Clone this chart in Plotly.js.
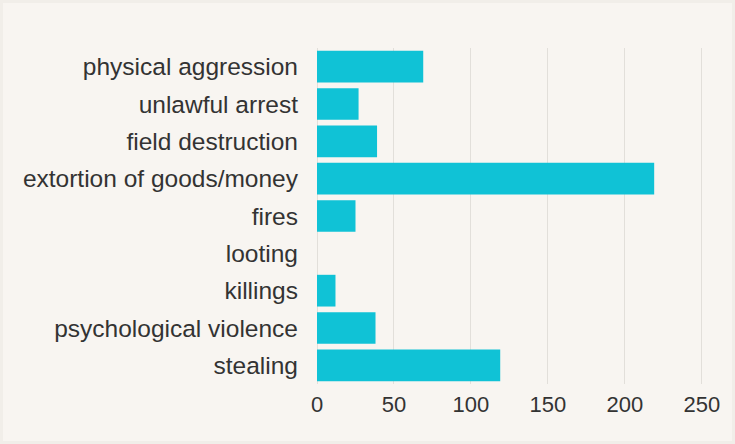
<!DOCTYPE html>
<html>
<head>
<meta charset="utf-8">
<script src="https://cdn.plot.ly/plotly-3.0.1.min.js"></script>
<style>html,body{margin:0;padding:0;background:#f8f5f1;}#chart{width:735px;height:444px;}</style>
</head>
<body>
<div id="chart"></div>
<script>
const categories = ["physical aggression","unlawful arrest","field destruction","extortion of goods/money","fires","looting","killings","psychological violence","stealing"];
const counts = [69, 27, 39, 219, 25, 0, 12, 38, 119];
const xTicks = [0, 50, 100, 150, 200, 250];

const trace = {
  type: 'bar',
  orientation: 'h',
  y: categories,
  x: counts,
  marker: {color: '#10c2d6'},
  hoverinfo: 'x+y'
};

const layout = {
  width: 735, height: 444,
  paper_bgcolor: '#f8f5f1',
  plot_bgcolor: '#f8f5f1',
  margin: {l: 317, r: 10, t: 48, b: 60},
  bargap: 0.15,
  font: {family: '"Liberation Sans", Arial, sans-serif', size: 22, color: '#333'},
  showlegend: false,
  xaxis: {
    range: [0, 265],
    tickvals: xTicks,
    ticktext: xTicks.map(String),
    tickfont: {size: 22, color: '#333'},
    showgrid: true, gridcolor: '#e2dfda', gridwidth: 1,
    zeroline: true, zerolinecolor: '#e2dfda',
    showline: false, ticks: '',
    ticklabelstandoff: 5
  },
  yaxis: {
    autorange: 'reversed',
    tickfont: {size: 24.5, color: '#333'},
    showgrid: false, zeroline: false, showline: false,
    ticks: '', ticklabelstandoff: 18
  },
  shapes: [{type:'rect', xref:'paper', yref:'paper', x0:-317/408, x1:1+10/408, y0:-60/336, y1:1+48/336, line:{color:'#f1eee9', width:6}, fillcolor:'rgba(0,0,0,0)', layer:'below'}]
};

Plotly.newPlot('chart', [trace], layout, {staticPlot: true, displayModeBar: false});
</script>
</body>
</html>
